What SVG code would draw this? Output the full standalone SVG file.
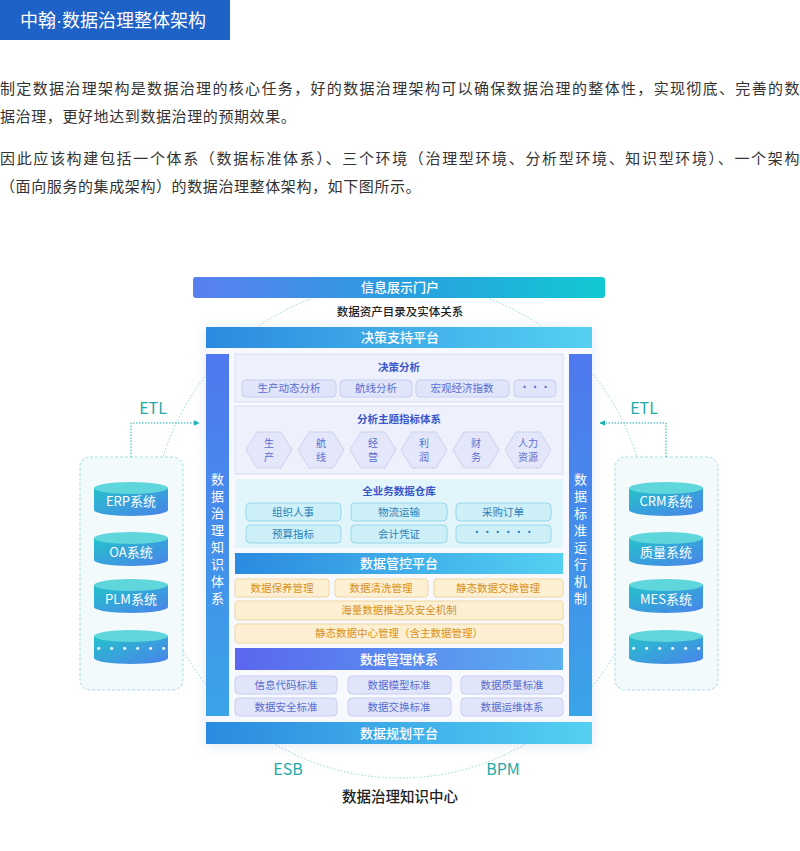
<svg xmlns="http://www.w3.org/2000/svg" width="800" height="851" viewBox="0 0 800 851">
<defs>
<linearGradient id="gTop" x1="0" x2="1"><stop offset="0" stop-color="#5a7ff0"/><stop offset="0.5" stop-color="#2a9ee0"/><stop offset="1" stop-color="#12c9d2"/></linearGradient>
<linearGradient id="gBar" x1="0" x2="1"><stop offset="0" stop-color="#2a8ae0"/><stop offset="1" stop-color="#55d0f2"/></linearGradient>
<linearGradient id="gMgmt" x1="0" x2="1"><stop offset="0" stop-color="#5a66ee"/><stop offset="1" stop-color="#5ab0f0"/></linearGradient>
<linearGradient id="gSide" x1="0" x2="0" y1="0" y2="1"><stop offset="0" stop-color="#4f78ee"/><stop offset="1" stop-color="#3aa4e8"/></linearGradient>
<linearGradient id="gCyl" x1="0" x2="1" y1="0" y2="1"><stop offset="0" stop-color="#25c2cc"/><stop offset="1" stop-color="#4a82ea"/></linearGradient>
<marker id="arr" viewBox="0 0 10 10" refX="9" refY="5" markerWidth="6" markerHeight="6" orient="auto-start-reverse"><path d="M0,0 L10,5 L0,10 z" fill="#1fb0b0"/></marker>
<filter id="sh" x="-10%" y="-10%" width="120%" height="120%"><feDropShadow dx="0" dy="2" stdDeviation="6" flood-color="#5a80c0" flood-opacity="0.18"/></filter>
</defs>
<style>
text{font-family:"Noto Sans CJK SC","Noto Sans",sans-serif}
.p{font-size:15px;fill:#333;letter-spacing:0.6px}
.wb{font-size:13px;fill:#fff;text-anchor:middle;font-weight:500}
.pan{fill:#eef0fb;stroke:#d8dcf3;stroke-width:1}
.pt{font-size:10.5px;fill:#3a56cc;text-anchor:middle;font-weight:700}
.pill{fill:#e1e5f9;stroke:#c9cff1;stroke-width:1}
.pillt{font-size:10.5px;fill:#5a6ed0;text-anchor:middle}
.hext{font-size:10px;fill:#5a6ed0;text-anchor:middle}
.cy{fill:#cdf0f8;stroke:#98d8ea;stroke-width:1}
.cyt{font-size:10.5px;fill:#2a7fb8;text-anchor:middle}
.ye{fill:#fdf0d2;stroke:#f0d6a0;stroke-width:1}
.yet{font-size:10.5px;fill:#d8901c;text-anchor:middle}
.vt{font-size:13px;fill:#fff;writing-mode:vertical-rl;letter-spacing:4px}
.hex{fill:#e3e7f9;stroke:#cbd1f1;stroke-width:1}
.db{font-size:13px;fill:#fff;text-anchor:middle}
.teal{font-size:16px;fill:#22aaa8;text-anchor:middle}
.box{fill:#f2fafc;stroke:#a6dbe6;stroke-width:1;stroke-dasharray:3 2}
</style>

<g id="header">
<rect x="0" y="0" width="230" height="40" fill="#1e62c8"/>
<text x="20" y="27" font-size="18" fill="#fff">中翰<tspan font-family="Liberation Sans">·</tspan>数据治理整体架构</text>
</g>
<g id="intro">
<text class="p" x="0" y="94" textLength="800" lengthAdjust="spacing">制定数据治理架构是数据治理的核心任务，好的数据治理架构可以确保数据治理的整体性，实现彻底、完善的数</text>
<text class="p" x="0" y="122">据治理，更好地达到数据治理的预期效果。</text>
<text class="p" x="0" y="164" textLength="800" lengthAdjust="spacing">因此应该构建包括一个体系（数据标准体系）、三个环境（治理型环境、分析型环境、知识型环境）、一个架构</text>
<text class="p" x="0" y="192">（面向服务的集成架构）的数据治理整体架构，如下图所示。</text>
</g>

<circle cx="400" cy="530" r="248" fill="none" stroke="#8fd6d8" stroke-width="1" stroke-dasharray="1.5 2"/>

<g id="main" filter="url(#sh)">
<rect x="206" y="327" width="386" height="417" fill="#f7f9fe"/>
</g>
<g id="portal"><rect x="193" y="277" width="412" height="21" rx="3" fill="url(#gTop)"/><text class="wb" x="400" y="292">信息展示门户</text></g>
<g id="catalog"><text x="400" y="316" font-size="11.5" fill="#222" text-anchor="middle" font-weight="500">数据资产目录及实体关系</text></g>
<g id="decision-platform"><rect x="206" y="327" width="386" height="21" fill="url(#gBar)"/><text class="wb" x="400" y="342">决策支持平台</text></g>
<g id="left-side"><rect x="206" y="354" width="23" height="362" fill="url(#gSide)"/>
<text class="vt" x="217.5" y="473">数据治理知识体系</text></g>
<g id="right-side"><rect x="569" y="354" width="23" height="362" fill="url(#gSide)"/>
<text class="vt" x="580.5" y="473">数据标准运行机制</text></g>

<g id="decision-analysis">
<rect class="pan" x="235" y="354" width="328" height="48"/>
<text class="pt" x="399" y="371">决策分析</text>
<rect class="pill" x="242" y="380" width="94" height="17" rx="4"/><text class="pillt" x="289" y="392">生产动态分析</text>
<rect class="pill" x="340" y="380" width="72" height="17" rx="4"/><text class="pillt" x="376" y="392">航线分析</text>
<rect class="pill" x="416" y="380" width="93" height="17" rx="4"/><text class="pillt" x="462" y="392">宏观经济指数</text>
<rect class="pill" x="514" y="380" width="42" height="17" rx="4"/><text class="pillt" x="535" y="391">···</text>
</g>
<g id="theme-index">
<rect class="pan" x="235" y="406" width="328" height="68"/>
<text class="pt" x="399" y="423">分析主题指标体系</text>
<path class="hex" d="M257,432 L281,432 L292,450 L281,468 L257,468 L246,450 Z"/><text class="hext" x="269" y="447">生</text><text class="hext" x="269" y="461">产</text>
<path class="hex" d="M309,432 L333,432 L344,450 L333,468 L309,468 L298,450 Z"/><text class="hext" x="321" y="447">航</text><text class="hext" x="321" y="461">线</text>
<path class="hex" d="M361,432 L385,432 L396,450 L385,468 L361,468 L350,450 Z"/><text class="hext" x="373" y="447">经</text><text class="hext" x="373" y="461">营</text>
<path class="hex" d="M412,432 L436,432 L447,450 L436,468 L412,468 L401,450 Z"/><text class="hext" x="424" y="447">利</text><text class="hext" x="424" y="461">润</text>
<path class="hex" d="M464,432 L488,432 L499,450 L488,468 L464,468 L453,450 Z"/><text class="hext" x="476" y="447">财</text><text class="hext" x="476" y="461">务</text>
<path class="hex" d="M516,432 L540,432 L551,450 L540,468 L516,468 L505,450 Z"/><text class="hext" x="528" y="447">人力</text><text class="hext" x="528" y="461">资源</text>
</g>
<g id="warehouse">
<rect x="235" y="479" width="328" height="69" fill="#e2f5fb"/>
<text class="pt" x="399" y="495">全业务数据仓库</text>
<rect class="cy" x="246" y="503" width="95" height="18" rx="4"/><text class="cyt" x="293" y="516">组织人事</text>
<rect class="cy" x="351" y="503" width="96" height="18" rx="4"/><text class="cyt" x="399" y="516">物流运输</text>
<rect class="cy" x="456" y="503" width="95" height="18" rx="4"/><text class="cyt" x="503" y="516">采购订单</text>
<rect class="cy" x="246" y="525" width="95" height="18" rx="4"/><text class="cyt" x="293" y="538">预算指标</text>
<rect class="cy" x="351" y="525" width="96" height="18" rx="4"/><text class="cyt" x="399" y="538">会计凭证</text>
<rect class="cy" x="456" y="525" width="95" height="18" rx="4"/><text class="cyt" x="503" y="536" font-family="Liberation Sans">······</text>
</g>
<g id="control-platform">
<rect x="235" y="553" width="328" height="21" fill="url(#gBar)"/><text class="wb" x="399" y="568">数据管控平台</text>
<rect class="ye" x="235" y="579" width="94" height="18" rx="3"/><text class="yet" x="282" y="592">数据保养管理</text>
<rect class="ye" x="335" y="579" width="93" height="18" rx="3"/><text class="yet" x="381" y="592">数据清洗管理</text>
<rect class="ye" x="434" y="579" width="129" height="18" rx="3"/><text class="yet" x="498" y="592">静态数据交换管理</text>
<rect class="ye" x="235" y="601" width="328" height="19" rx="3"/><text class="yet" x="399" y="614">海量数据推送及安全机制</text>
<rect class="ye" x="235" y="624" width="328" height="19" rx="3"/><text class="yet" x="399" y="637">静态数据中心管理（含主数据管理）</text>
</g>
<g id="mgmt-system">
<rect x="235" y="648" width="328" height="22" fill="url(#gMgmt)"/><text class="wb" x="399" y="664">数据管理体系</text>
<rect class="pill" x="235" y="676" width="102" height="18" rx="4"/><text class="pillt" x="286" y="689">信息代码标准</text>
<rect class="pill" x="348" y="676" width="103" height="18" rx="4"/><text class="pillt" x="399" y="689">数据模型标准</text>
<rect class="pill" x="461" y="676" width="102" height="18" rx="4"/><text class="pillt" x="512" y="689">数据质量标准</text>
<rect class="pill" x="235" y="698" width="102" height="18" rx="4"/><text class="pillt" x="286" y="711">数据安全标准</text>
<rect class="pill" x="348" y="698" width="103" height="18" rx="4"/><text class="pillt" x="399" y="711">数据交换标准</text>
<rect class="pill" x="461" y="698" width="102" height="18" rx="4"/><text class="pillt" x="512" y="711">数据运维体系</text>
</g>
<g id="planning-platform"><rect x="206" y="722" width="386" height="22" fill="url(#gBar)"/><text class="wb" x="399" y="738">数据规划平台</text></g>
<g id="bottom-labels">
<text class="teal" x="288" y="775">ESB</text>
<text class="teal" x="503" y="775">BPM</text>
<text x="400" y="802" font-size="14.5" fill="#222" text-anchor="middle" font-weight="500">数据治理知识中心</text>
</g>

<g id="left-systems">
<rect class="box" x="80" y="457" width="103" height="233" rx="10"/>
<g><path d="M94,488 v22 a37,6 0 0 0 74,0 v-22 z" fill="url(#gCyl)"/><ellipse cx="131" cy="488" rx="37" ry="6" fill="#5fd6dc"/><text class="db" x="131" y="506">ERP系统</text></g>
<g><path d="M94,538 v22 a37,6 0 0 0 74,0 v-22 z" fill="url(#gCyl)"/><ellipse cx="131" cy="538" rx="37" ry="6" fill="#5fd6dc"/><text class="db" x="131" y="557">OA系统</text></g>
<g><path d="M94,585 v22 a37,6 0 0 0 74,0 v-22 z" fill="url(#gCyl)"/><ellipse cx="131" cy="585" rx="37" ry="6" fill="#5fd6dc"/><text class="db" x="131" y="604">PLM系统</text></g>
<g><path d="M94,636 v22 a37,6 0 0 0 74,0 v-22 z" fill="url(#gCyl)"/><ellipse cx="131" cy="636" rx="37" ry="6" fill="#5fd6dc"/><text class="db" x="131" y="653" font-family="Liberation Sans">······</text></g>
</g>
<g id="right-systems">
<rect class="box" x="615" y="457" width="103" height="233" rx="10"/>
<g><path d="M629,488 v22 a37,6 0 0 0 74,0 v-22 z" fill="url(#gCyl)"/><ellipse cx="666" cy="488" rx="37" ry="6" fill="#5fd6dc"/><text class="db" x="666" y="506">CRM系统</text></g>
<g><path d="M629,538 v22 a37,6 0 0 0 74,0 v-22 z" fill="url(#gCyl)"/><ellipse cx="666" cy="538" rx="37" ry="6" fill="#5fd6dc"/><text class="db" x="666" y="557">质量系统</text></g>
<g><path d="M629,585 v22 a37,6 0 0 0 74,0 v-22 z" fill="url(#gCyl)"/><ellipse cx="666" cy="585" rx="37" ry="6" fill="#5fd6dc"/><text class="db" x="666" y="604">MES系统</text></g>
<g><path d="M629,636 v22 a37,6 0 0 0 74,0 v-22 z" fill="url(#gCyl)"/><ellipse cx="666" cy="636" rx="37" ry="6" fill="#5fd6dc"/><text class="db" x="666" y="653" font-family="Liberation Sans">······</text></g>
</g>
<g id="connectors">
<path d="M131,457 V423 H199" fill="none" stroke="#1fb0b0" stroke-width="1" stroke-dasharray="1.5 1.5" marker-end="url(#arr)"/>
<path d="M666,457 V423 H600" fill="none" stroke="#1fb0b0" stroke-width="1" stroke-dasharray="1.5 1.5" marker-end="url(#arr)"/>
<text class="teal" x="153" y="414">ETL</text>
<text class="teal" x="644" y="414">ETL</text>
</g>
</svg>
